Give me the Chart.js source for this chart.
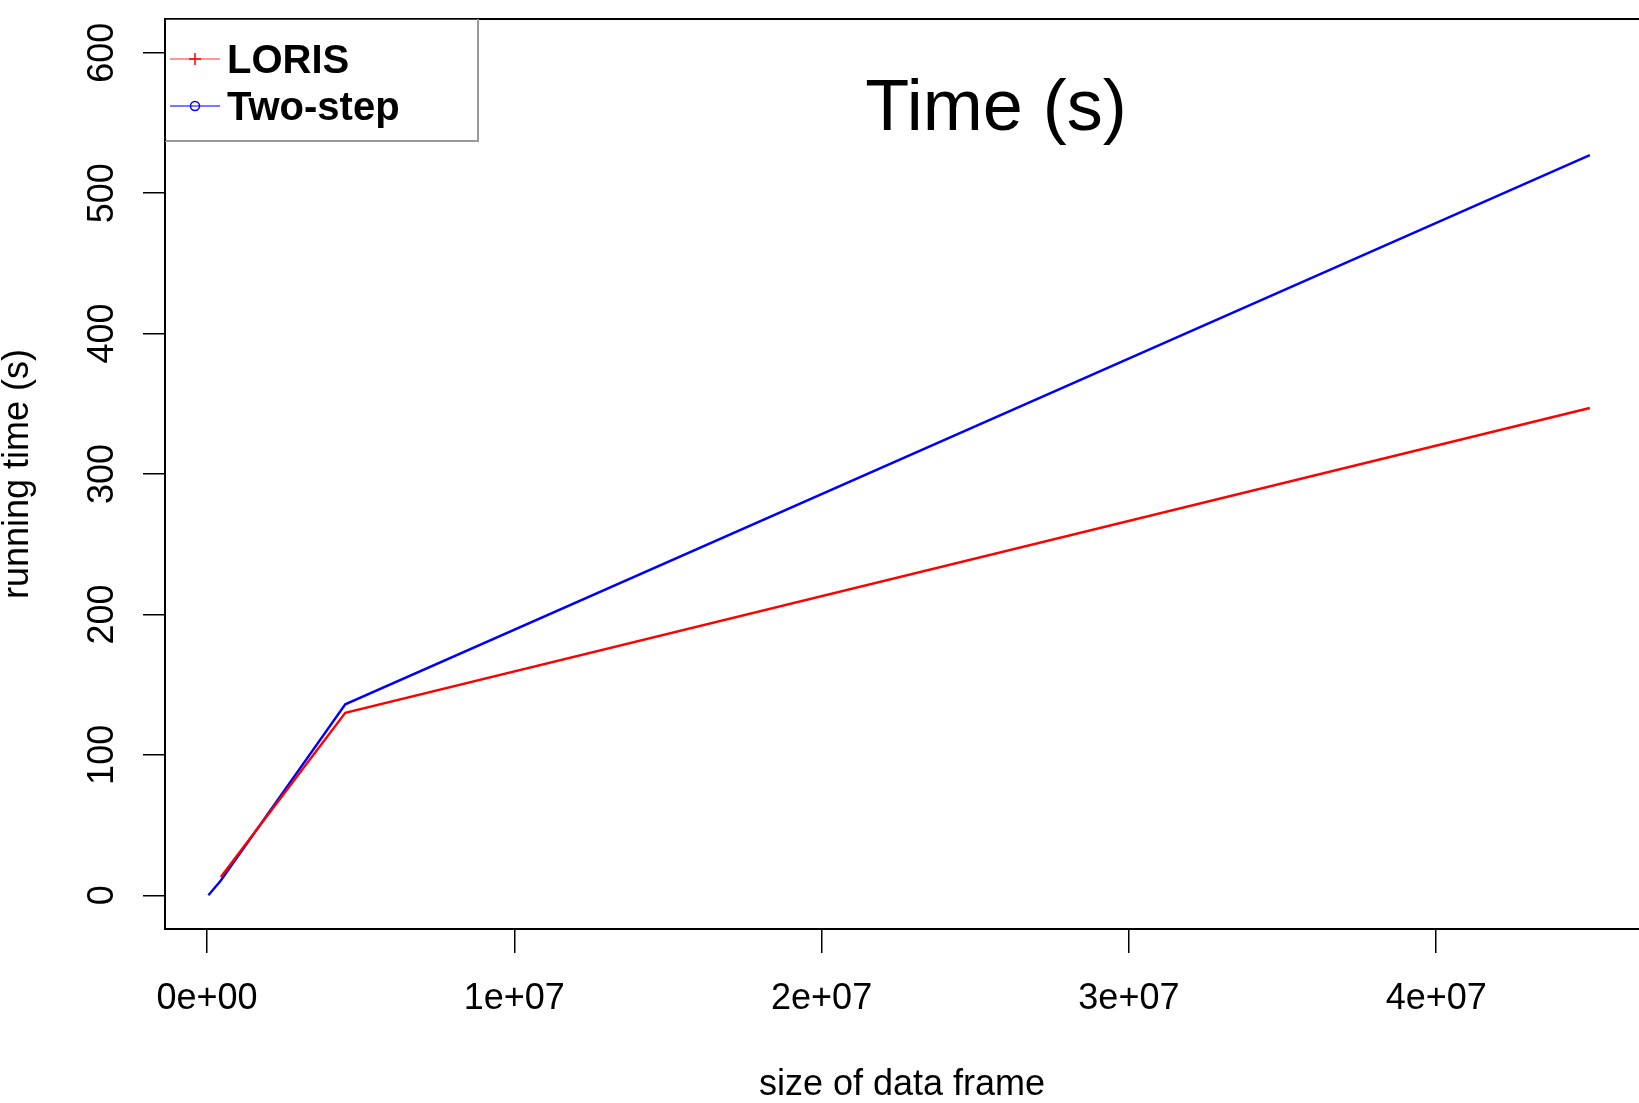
<!DOCTYPE html>
<html>
<head>
<meta charset="utf-8">
<script src="https://cdn.jsdelivr.net/npm/chart.js@4.4.1/dist/chart.umd.min.js"></script>
<style>
  html, body { margin: 0; padding: 0; background: #fff; }
  canvas { display: block; }
</style>
</head>
<body>
<canvas id="time" width="1639" height="1103"></canvas>
<script>
const lorisSize = [450000, 4500000, 45000000];
const lorisTime = [13, 130, 347];
const twoStepSize = [45000, 450000, 4500000, 45000000];
const twoStepTime = [0, 10.5, 136, 527];

const xTickValues = [0, 1e7, 2e7, 3e7, 4e7];
const yTickValues = [0, 100, 200, 300, 400, 500, 600];
const xRange = [-1366800, 46600000];
const yRange = [-24, 624];

const FONT = "'Liberation Sans', Arial, Helvetica, sans-serif";

function toPoints(xs, ys) {
  return xs.map((x, i) => ({ x: x, y: ys[i] }));
}

// R style labels: 1e+07
function sci(v) {
  if (v === 0) return "0e+00";
  const e = Math.floor(Math.log10(Math.abs(v)));
  const m = Math.round(v / Math.pow(10, e));
  return m + "e" + (e < 0 ? "-" : "+") + String(Math.abs(e)).padStart(2, "0");
}

function fixedTicks(values) {
  return (scale) => {
    scale.ticks = values.map((v) => ({ value: v }));
  };
}

const framePlugin = {
  id: "frame",
  afterDraw(chart) {
    const ctx = chart.ctx;
    const a = chart.chartArea;
    const yScale = chart.scales.y;
    ctx.save();

    // plot box (right side falls off the picture)
    ctx.strokeStyle = "#000";
    ctx.lineWidth = 2;
    ctx.beginPath();
    ctx.moveTo(chart.width, a.top);
    ctx.lineTo(a.left, a.top);
    ctx.lineTo(a.left, a.bottom);
    ctx.lineTo(chart.width, a.bottom);
    ctx.stroke();

    // y tick labels, rotated like R
    ctx.fillStyle = "#000";
    ctx.font = "36px " + FONT;
    ctx.textAlign = "center";
    ctx.textBaseline = "alphabetic";
    yScale.ticks.forEach((t) => {
      const py = yScale.getPixelForValue(t.value);
      ctx.save();
      ctx.translate(a.left - 52, py);
      ctx.rotate(-Math.PI / 2);
      ctx.fillText(String(t.value), 0, 0);
      ctx.restore();
    });

    // legend box
    const lx = a.left, ly = a.top, lw = 313, lh = 122;
    ctx.fillStyle = "#fff";
    ctx.fillRect(lx, ly, lw, lh);
    ctx.lineWidth = 1;
    ctx.strokeStyle = "#444";
    ctx.beginPath();
    ctx.moveTo(lx, ly + 0.5);
    ctx.lineTo(lx + lw, ly + 0.5);
    ctx.stroke();
    ctx.lineWidth = 2;
    ctx.strokeStyle = "#999";
    ctx.beginPath();
    ctx.moveTo(lx + lw, ly);
    ctx.lineTo(lx + lw, ly + lh);
    ctx.lineTo(lx, ly + lh);
    ctx.stroke();
    ctx.lineWidth = 2;
    ctx.strokeStyle = "#000";
    ctx.beginPath();
    ctx.moveTo(lx, ly);
    ctx.lineTo(lx, ly + lh);
    ctx.stroke();

    const items = chart.data.datasets;
    items.forEach((ds, i) => {
      const cy = ly + 40 + i * 47;
      ctx.lineWidth = 1.5;
      ctx.strokeStyle = ds.legendLine;
      ctx.beginPath();
      ctx.moveTo(lx + 5, cy);
      ctx.lineTo(lx + 55, cy);
      ctx.stroke();
      ctx.strokeStyle = ds.borderColor;
      ctx.lineWidth = 1.5;
      const mx = lx + 30;
      ctx.beginPath();
      if (ds.legendMark === "plus") {
        ctx.moveTo(mx - 6, cy);
        ctx.lineTo(mx + 6, cy);
        ctx.moveTo(mx, cy - 6);
        ctx.lineTo(mx, cy + 6);
      } else {
        ctx.arc(mx, cy, 4.5, 0, Math.PI * 2);
      }
      ctx.stroke();
      ctx.fillStyle = "#000";
      ctx.font = "bold 40px " + FONT;
      ctx.textAlign = "left";
      ctx.textBaseline = "alphabetic";
      ctx.fillText(ds.label, lx + 62, cy + 14);
    });

    // main title inside plot area
    ctx.font = "72px " + FONT;
    ctx.textAlign = "center";
    ctx.fillStyle = "#000";
    ctx.fillText("Time (s)", a.left + 831, a.top + 111);

    ctx.restore();
  },
};

const timeChart = new Chart("time", {
  type: "line",
  data: {
    datasets: [
      {
        label: "LORIS",
        data: toPoints(lorisSize, lorisTime),
        borderColor: "#ff0000",
        legendLine: "rgba(255,0,0,0.55)",
        legendMark: "plus",
        borderWidth: 2.4,
        pointRadius: 0,
        fill: false,
        tension: 0,
      },
      {
        label: "Two-step",
        data: toPoints(twoStepSize, twoStepTime),
        borderColor: "#0000ff",
        legendLine: "rgba(0,0,255,0.7)",
        legendMark: "circle",
        borderWidth: 2.4,
        pointRadius: 0,
        fill: false,
        tension: 0,
      },
    ],
  },
  options: {
    responsive: false,
    animation: false,
    devicePixelRatio: 1,
    layout: { padding: { left: 0, top: 19, right: 0, bottom: 0 } },
    plugins: {
      legend: { display: false },
      tooltip: { enabled: false },
    },
    scales: {
      x: {
        type: "linear",
        bounds: "data",
        min: xRange[0],
        max: xRange[1],
        afterBuildTicks: fixedTicks(xTickValues),
        afterFit(scale) { scale.height = 174; },
        border: { display: false },
        grid: {
          drawOnChartArea: false,
          drawTicks: true,
          tickLength: 24,
          color: "#000",
          lineWidth: 1.5,
        },
        ticks: {
          maxRotation: 0,
          autoSkip: false,
          padding: 24,
          color: "#000",
          font: { family: FONT, size: 36 },
          callback: (v) => sci(v),
        },
        title: {
          display: true,
          text: "size of data frame",
          color: "#000",
          font: { family: FONT, size: 36, lineHeight: 1 },
          padding: { top: 0, bottom: 0 },
        },
      },
      y: {
        type: "linear",
        bounds: "data",
        min: yRange[0],
        max: yRange[1],
        afterBuildTicks: fixedTicks(yTickValues),
        afterFit(scale) { scale.width = 165; },
        border: { display: false },
        grid: {
          drawOnChartArea: false,
          drawTicks: true,
          tickLength: 22,
          color: "#000",
          lineWidth: 1.5,
        },
        ticks: {
          display: false,
        },
        title: {
          display: true,
          text: "running time (s)",
          color: "#000",
          font: { family: FONT, size: 36, lineHeight: 1 },
          padding: { top: 0, bottom: 0 },
        },
      },
    },
  },
  plugins: [framePlugin],
});
</script>
</body>
</html>
